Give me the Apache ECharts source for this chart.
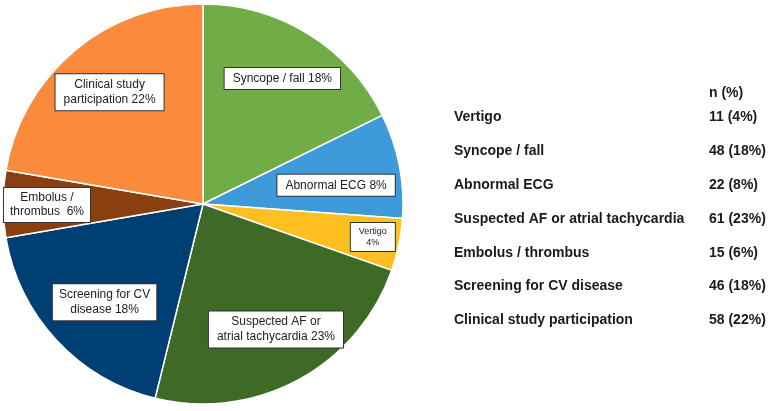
<!DOCTYPE html>
<html>
<head>
<meta charset="utf-8">
<script src="https://cdn.jsdelivr.net/npm/echarts@6/dist/echarts.min.js"></script>
<style>
html,body{margin:0;padding:0;background:#fff;}
#chart{width:778px;height:411px;}
</style>
</head>
<body>
<div id="chart"></div>
<script>
// Pie slices (clockwise from 12 o'clock); sizes
const categories = ['Syncope / fall', 'Abnormal ECG', 'Vertigo', 'Suspected AF or atrial tachycardia', 'Screening for CV disease', 'Embolus / thrombus', 'Clinical study participation'];
const sliceValues = [46, 22, 11, 61, 48, 14, 58];
const pieLabelNames = ['Syncope / fall ', 'Abnormal ECG ', 'Vertigo\n', 'Suspected AF or\natrial tachycardia ', 'Screening for CV\ndisease ', 'Embolus /\nthrombus  ', 'Clinical study\nparticipation '];
const colors = ['#70AD47', '#3C9BD8', '#FEC020', '#3E6A25', '#003F73', '#8A3F11', '#FB8B3C'];

// Table (as printed on the right)
const tableNames = ['Vertigo', 'Syncope / fall', 'Abnormal ECG', 'Suspected AF or atrial tachycardia', 'Embolus / thrombus', 'Screening for CV disease', 'Clinical study participation'];
const tableCounts = [11, 48, 22, 61, 15, 46, 58];
const tableHeader = 'n (%)';

// label offsets relative to ECharts "inside" label position (layout only)
const labelOffsets = [[25, -38], [32, 1], [69, 12], [24, 35], [-23, 28], [-53, 1], [-27, -33]];
const labelPadding = [[3, 8], [3, 8], [3, 8], [3, 8], [3, 6], [3, 6], [3, 8]];

const total = tableCounts.reduce((a, b) => a + b, 0);
const pctOf = name => Math.round(tableCounts[tableNames.indexOf(name)] / total * 100);

const chart = echarts.init(document.getElementById('chart'), null, {renderer: 'canvas'});

const pieData = categories.map((c, i) => ({
  name: c,
  value: sliceValues[i],
  itemStyle: {color: colors[i]},
  label: {
    offset: labelOffsets[i],
    fontSize: i === 2 ? 9 : 12,
    lineHeight: i === 2 ? 11 : (i === 5 ? 14 : 15),
    padding: labelPadding[i]
  }
}));

const FONT = 'bold 14px "Liberation Sans", Arial, sans-serif';
const graphics = [];
const rowX = 454, valX = 709, headerY = 93, rowY0 = 117.5, rowStep = 33.8;
graphics.push({
  type: 'text', x: valX, y: headerY,
  style: {text: tableHeader, font: FONT, fill: '#1a1a1a', verticalAlign: 'middle'}
});
tableNames.forEach((name, k) => {
  const y = rowY0 + k * rowStep;
  graphics.push({
    type: 'text', x: rowX, y: y,
    style: {text: name, font: FONT, fill: '#1a1a1a', verticalAlign: 'middle'}
  });
  graphics.push({
    type: 'text', x: valX, y: y,
    style: {text: tableCounts[k] + ' (' + pctOf(name) + '%)', font: FONT, fill: '#1a1a1a', verticalAlign: 'middle'}
  });
});

chart.setOption({
  animation: false,
  backgroundColor: '#fff',
  series: [{
    type: 'pie',
    center: [203, 204],
    radius: [0, 200],
    startAngle: 90,
    clockwise: true,
    avoidLabelOverlap: false,
    itemStyle: {borderColor: '#fff', borderWidth: 1.5},
    label: {
      show: true,
      position: 'inside',
      formatter: p => pieLabelNames[p.dataIndex] + pctOf(p.name) + '%',
      fontFamily: '"Liberation Sans", Arial, sans-serif',
      color: '#222',
      backgroundColor: '#fff',
      borderColor: '#333',
      borderWidth: 1,
      align: 'center'
    },
    labelLine: {show: false},
    emphasis: {disabled: true},
    data: pieData
  }],
  graphic: graphics
});
</script>
</body>
</html>
